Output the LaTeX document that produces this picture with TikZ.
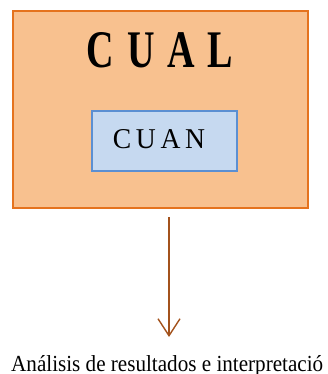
\documentclass[tikz,border=0pt]{standalone}
\usepackage{fontspec}
\setmainfont{Liberation Serif}
\usetikzlibrary{arrows.meta,positioning}

\definecolor{cualfill}{HTML}{F8C18F}
\definecolor{cualline}{HTML}{E5731E}
\definecolor{cuanfill}{HTML}{C6D9F0}
\definecolor{cuanline}{HTML}{5B8FD2}
\definecolor{arrbrown}{HTML}{A3521C}

\begin{document}
\begin{tikzpicture}[x=1pt, y=-1pt, line join=miter,
    cualbox/.style={draw=cualline, fill=cualfill, line width=1.8pt, minimum width=295pt, minimum height=197pt, inner sep=0pt},
    cuanbox/.style={draw=cuanline, fill=cuanfill, line width=1.4pt, minimum width=145pt, minimum height=60pt, inner sep=0pt},
    boxtext/.style={inner sep=0pt, anchor=base}]

    \useasboundingbox (0,0) rectangle (328,374);

    % --- 1. Outer box (CUAL) ---
    \node[cualbox] (cual) at (160.5,109.5) {};
    \node[boxtext] (cualtxt) at (160,68) {\resizebox{146pt}{35pt}{\bfseries C\,\,U\,\,A\,\,L}};

    % --- 2. Inner box (CUAN) ---
    \node[cuanbox] (cuan) at (164.5,141) {};
    \node[boxtext] (cuantxt) at (159,148) {\resizebox{92pt}{19pt}{C\,U\,A\,N}};

    % --- 3. Arrow and result ---
    \coordinate (arrtop) at (169,217);
    \coordinate (arrtip) at (169,337);
    \draw[arrbrown, line width=1.4pt, -{Straight Barb[length=17pt, width=22pt, line width=1.4pt]}] (arrtop) -- (arrtip);

    \node[inner sep=0pt, anchor=base west] (result) at (11,371)
        {\resizebox{312pt}{16pt}{\fontsize{20}{22}\selectfont Análisis de resultados e interpretació}};
\end{tikzpicture}
\end{document}
